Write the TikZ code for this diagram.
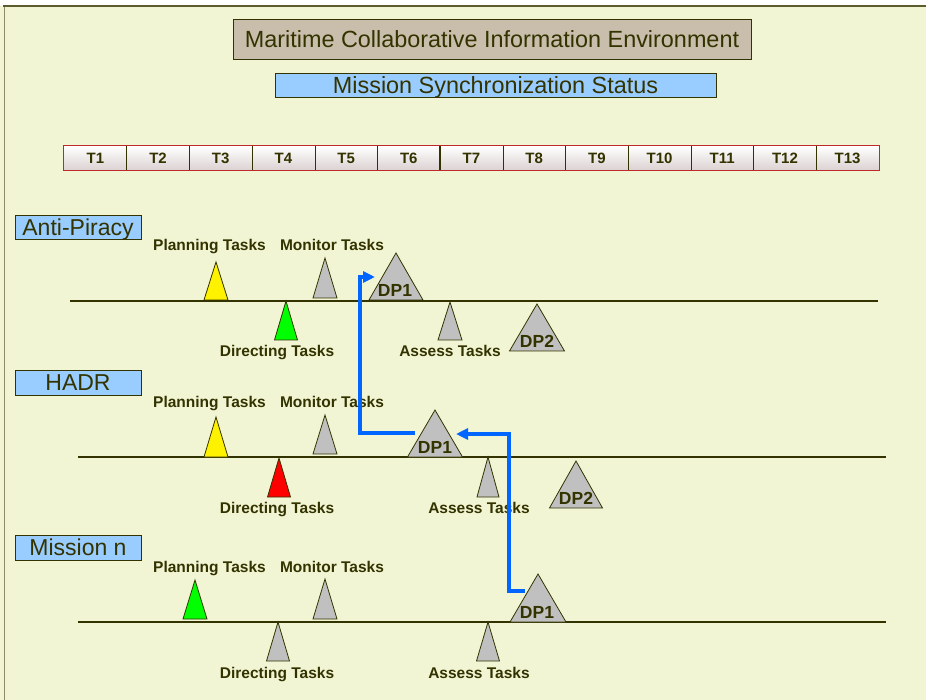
\documentclass[tikz,border=0pt]{standalone}
\usepackage{fontspec}
\setmainfont{Liberation Sans}
\usetikzlibrary{arrows.meta}

\definecolor{paper}{HTML}{F2F5D4}
\definecolor{ink}{HTML}{333300}
\definecolor{frameline}{HTML}{5C5C2E}
\definecolor{sideline}{HTML}{8C8C66}
\definecolor{titlefill}{HTML}{C9BDAB}
\definecolor{skyfill}{HTML}{99CCFF}
\definecolor{markgray}{HTML}{C0C0C0}
\definecolor{flowblue}{HTML}{0066FF}
\definecolor{barred}{HTML}{C0282D}
\definecolor{cellshade}{HTML}{DCD2D2}

% triangle marker: name, apex x, apex y, base y, half base, fill colour
\newcommand\taskmark[6]{%
  \filldraw[markbox, fill=#6] (#2-#5,#4) -- (#2,#3) -- (#2+#5,#4) -- cycle;
  \coordinate (#1) at (#2,#3);}

\tikzset{
  banner/.style={draw=ink, line width=0.9pt, inner sep=0pt, text=ink,
    font=\fontsize{23.4}{27}\selectfont, text height=16.5pt, text depth=0pt},
  missionbox/.style={banner, fill=skyfill, minimum width=126pt,
    font=\fontsize{23}{27}\selectfont},
  tasklabel/.style={text=ink, inner sep=0pt, font=\bfseries\fontsize{15.5}{18}\selectfont,
    text height=11pt, text depth=0pt},
  dplabel/.style={text=ink, inner sep=0pt, font=\bfseries\fontsize{17.5}{20}\selectfont,
    text height=12.5pt, text depth=0pt},
  cell/.style={inner sep=0pt, minimum width=62.69pt, minimum height=24pt,
    top color=white, bottom color=cellshade, text=ink,
    font=\bfseries\fontsize{15}{18}\selectfont, text height=10.7pt, text depth=0pt},
  markbox/.style={draw=ink, line width=0.8pt, line join=miter},
  timeline/.style={draw=ink, line width=1.4pt},
  flow/.style={draw=flowblue, line width=3.6pt,
    -{Triangle[length=12pt,width=11pt]}}
}

\begin{document}
\begin{tikzpicture}[x=1pt,y=-1pt]
\useasboundingbox (0,0) rectangle (926,700);

% page background and frame
\fill[white] (0,0) rectangle (926,700);
\fill[paper] (0,6) rectangle (926,700);
\draw[sideline, line width=1pt] (4,6) -- (4,700);
\draw[frameline, line width=1.6pt] (3,6) -- (926,6);

% headings
\node[banner, fill=titlefill, minimum width=518pt, minimum height=40pt] (title) at (492,39)
  {Maritime Collaborative Information Environment};
\node[banner, fill=skyfill, minimum width=441pt, minimum height=24pt] (status) at (495.5,85)
  {Mission Synchronization Status};

% time scale
\foreach \i in {1,...,13} {
  \node[cell] (t\i) at ({64+(\i-0.5)*62.69},158) {T\i};
}
\foreach \i in {1,...,12} {
  \draw[ink, line width=0.9pt] (t\i.north east) -- (t\i.south east);
}
\draw[ink, line width=1.8pt] (t6.north east) -- (t6.south east);
\draw[barred, line width=1.2pt] (t1.north west) rectangle (t13.south east);

% mission labels
\node[missionbox, minimum height=24pt] (antipiracy) at (78,227) {Anti-Piracy};
\node[missionbox, minimum height=25pt] (hadr) at (78,382.5) {HADR};
\node[missionbox, minimum height=25pt] (missionn) at (78,547.5) {Mission n};

% timelines
\draw[timeline] (70,301) -- (878,301);
\draw[timeline] (78,457) -- (886,457);
\draw[timeline] (78,622) -- (886,622);

% Anti-Piracy
\taskmark{ap-plan}{216}{262}{300}{12}{yellow}
\taskmark{ap-mon}{325}{258}{298}{12}{markgray}
\taskmark{ap-dir}{286}{301}{340}{11.5}{green}
\taskmark{ap-dp1}{396}{253}{300}{27}{markgray}
\taskmark{ap-ass}{450}{302}{340}{12}{markgray}
\taskmark{ap-dp2}{537}{304}{351}{27.5}{markgray}
\node[tasklabel] (ap-plan-l) at (209.5,245) {Planning Tasks};
\node[tasklabel] (ap-mon-l) at (332,245) {Monitor Tasks};
\node[tasklabel] (ap-dir-l) at (277,351) {Directing Tasks};
\node[tasklabel] (ap-ass-l) at (450,351) {Assess Tasks};
\node[dplabel] (ap-dp1-l) at (395,290) {DP1};
\node[dplabel] (ap-dp2-l) at (537,341) {DP2};

% HADR
\taskmark{hadr-plan}{216}{417}{457}{12}{yellow}
\taskmark{hadr-mon}{325}{415}{454}{12}{markgray}
\taskmark{hadr-dir}{279}{458}{497}{11.5}{red}
\taskmark{hadr-dp1}{435}{410}{457}{27.5}{markgray}
\taskmark{hadr-ass}{488}{457}{497}{11}{markgray}
\taskmark{hadr-dp2}{576}{461}{508}{26.5}{markgray}
\node[tasklabel] (hadr-plan-l) at (209.5,402) {Planning Tasks};
\node[tasklabel] (hadr-mon-l) at (332,402) {Monitor Tasks};
\node[tasklabel] (hadr-dir-l) at (277,508) {Directing Tasks};
\node[tasklabel] (hadr-ass-l) at (479,508) {Assess Tasks};
\node[dplabel] (hadr-dp1-l) at (435,447) {DP1};
\node[dplabel] (hadr-dp2-l) at (576,498) {DP2};

% Mission n
\taskmark{mn-plan}{195}{580}{619}{12}{green}
\taskmark{mn-mon}{325}{579}{619}{12}{markgray}
\taskmark{mn-dir}{278}{622}{661}{11.5}{markgray}
\taskmark{mn-ass}{488}{622}{661}{11.5}{markgray}
\taskmark{mn-dp1}{538}{574}{622}{28}{markgray}
\node[tasklabel] (mn-plan-l) at (209.5,567) {Planning Tasks};
\node[tasklabel] (mn-mon-l) at (332,567) {Monitor Tasks};
\node[tasklabel] (mn-dir-l) at (277,673) {Directing Tasks};
\node[tasklabel] (mn-ass-l) at (479,673) {Assess Tasks};
\node[dplabel] (mn-dp1-l) at (537,612) {DP1};

% decision point hand-offs
\coordinate (ap-dp1-in) at (375,277);
\coordinate (hadr-dp1-out) at (415,433);
\coordinate (hadr-dp1-in) at (456,434);
\coordinate (mn-dp1-out) at (525,591);
\draw[flow] (hadr-dp1-out) -| ([xshift=-15pt]ap-dp1-in) -- (ap-dp1-in);
\draw[flow] (mn-dp1-out) -| ([xshift=53pt]hadr-dp1-in) -- (hadr-dp1-in);
\end{tikzpicture}
\end{document}
